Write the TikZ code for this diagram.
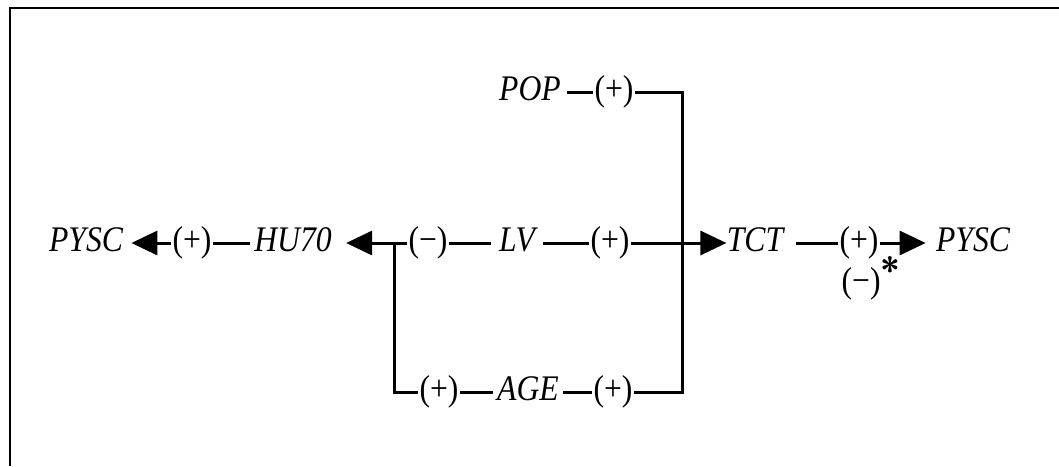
\documentclass[tikz,border=0pt]{standalone}
\usepackage{fontspec}
\setmainfont{Liberation Serif}[FakeStretch=0.88]
\usetikzlibrary{arrows.meta}
\begin{document}
\begin{tikzpicture}[x=0.5pt,y=-0.5pt,
  every node/.style={font=\fontsize{18}{22}\selectfont, text height=0.9em, text depth=0.1em, inner ysep=0pt},
  var/.style={font=\fontsize{18}{22}\selectfont\itshape, inner xsep=3pt},
  sgn/.style={inner xsep=0.5pt},
  link/.style={line width=1.5pt, line join=miter},
  arr/.style={link, -{Triangle[length=13pt,width=12pt]}},
  frame/.style={line width=1.1pt}]
\useasboundingbox (0,0) rectangle (1059,466);

% open frame: top and left edges
\draw[frame] (10,466) -- (10,8) -- (1059,8);

% main chain
\node[var] (pyscL) at (86,243) {PYSC};
\node[sgn] (s1) at (192,243) {(+)};
\node[var, inner xsep=2pt] (hu) at (293,243) {HU70};
\node[sgn] (s1m) at (428,243) {(−)};
\node[var, inner xsep=4pt] (lv) at (517,243) {LV};
\node[sgn] (s2) at (610,243) {(+)};
\node[var, inner xsep=6pt] (tct) at (755,243) {TCT};
\node[sgn] (s3) at (859,243) {(+)};
\node[var] (pyscR) at (973,243) {PYSC};
\node (neg) at (871,284) {(−)\raisebox{0.25em}{\textsf{\bfseries *}}};

% upper branch
\node[var] (pop) at (530,92) {POP};
\node[sgn] (s4) at (614,92) {(+)};

% lower branch
\node[sgn] (s5) at (439,392) {(+)};
\node[var, inner xsep=2pt] (age) at (528,392) {AGE};
\node[sgn] (s6) at (613,392) {(+)};

% junction points of the brackets
\coordinate (jL) at (394,243);
\coordinate (jRt) at (682,92);
\coordinate (jRb) at (682,392);

% connectors
\draw[arr, shorten >=1pt] (s1) -- (pyscL);
\draw[link] (hu) -- (s1);
\draw[arr, shorten >=5pt] (s1m) -- (hu);
\draw[link] (s1m) -- (lv);
\draw[link] (lv) -- (s2);
\draw[arr, shorten >=-6pt] (s2) -- (tct);
\draw[link] (tct) -- (s3);
\draw[arr, shorten >=2pt] (s3) -- (pyscR);

\draw[link] (jL) |- (s5);
\draw[link] (s5) -- (age);
\draw[link] (age) -- (s6);

\draw[link] (pop) -- (s4);
\draw[link] (s4) -- (jRt) -- (jRb) -- (s6);
\end{tikzpicture}
\end{document}
